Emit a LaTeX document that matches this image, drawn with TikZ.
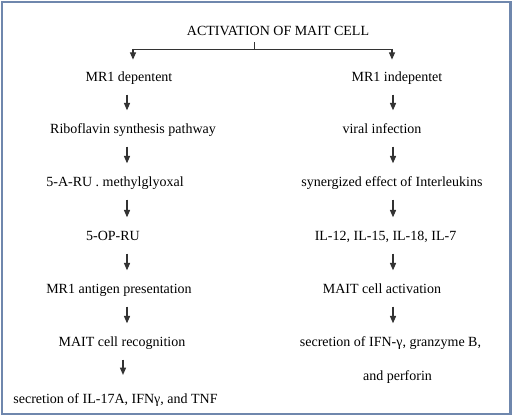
\documentclass[tikz,border=0pt]{standalone}
\usepackage{fontspec}
\setmainfont{Liberation Serif}
\newfontfamily\stepfont{Liberation Serif}
\usepackage{tikz}
\usepackage{xcolor}
\usetikzlibrary{arrows.meta,calc}
\definecolor{framec}{HTML}{6F87AD}
\definecolor{ink}{HTML}{333333}
\tikzset{
  stepnode/.style={align=center,inner sep=3pt,
                   font=\stepfont\fontsize{10.5}{12.6}\selectfont,
                   text height=7pt,text depth=2.2pt},
  flowarr/.style={-{Triangle[length=5.5pt,width=4.6pt]},line width=0.8pt,draw=ink,
                  shorten <=4.7pt,shorten >=7pt},
  forkline/.style={line width=0.7pt,draw=ink},
  forkarr/.style={-{Triangle[length=5.5pt,width=4.6pt]},line width=0.8pt,draw=ink,
                  shorten >=6pt}
}
\begin{document}
\begin{tikzpicture}[x=0.75pt,y=-0.75pt]
    \path[use as bounding box] (0,0) rectangle (513,417);
    \draw[framec,line width=1.9pt] (2,2) rectangle (510.5,414);
    % columns
    \coordinate (colL) at (127,0);
    \coordinate (colR) at (393,0);
    \node[stepnode] (title) at (278,32) {ACTIVATION OF MAIT CELL};
    % MR1 dependent branch
    \node[stepnode] (dep)  at (129,78)  {MR1 depentent};
    \node[stepnode] (ribo) at (133,130) {Riboflavin synthesis pathway};
    \node[stepnode] (aru)  at (115,183) {5-A-RU . methylglyoxal};
    \node[stepnode] (opru) at (113,237) {5-OP-RU};
    \node[stepnode] (mrag) at (119,290) {MR1 antigen presentation};
    \node[stepnode] (rec)  at (122,343) {MAIT cell recognition};
    \node[stepnode] (outL) at (115.5,400) {secretion of IL-17A, IFNγ, and TNF};
    % MR1 independent branch
    \node[stepnode] (indep) at (397,78)  {MR1 indepentet};
    \node[stepnode] (viral) at (382,130) {viral infection};
    \node[stepnode] (syn)   at (392,183) {synergized effect of Interleukins};
    \node[stepnode] (ils)   at (385.5,237) {IL-12, IL-15, IL-18, IL-7};
    \node[stepnode] (act)   at (382,290) {MAIT cell activation};
    \node[stepnode] (sec)   at (390.5,343) {secretion of IFN-γ, granzyme B,};
    \node[stepnode] (sec2)  at (397.5,377) {and perforin};
    % fork under the title
    \coordinate (split) at (254,49);
    \coordinate (forkL) at (133,49);
    \coordinate (forkR) at (392,49);
    \draw[forkline] (title.south -| split) -- (split);
    \draw[forkline] (forkL) -- (forkR);
    \draw[forkarr] (forkL) -- (dep.north -| forkL);
    \draw[forkarr] (forkR) -- (indep.north -| forkR);
    % arrows
    \draw[flowarr] (dep.south -| colL)  -- (ribo.north -| colL);
    \draw[flowarr] (ribo.south -| colL) -- (aru.north -| colL);
    \draw[flowarr] (aru.south -| colL)  -- (opru.north -| colL);
    \draw[flowarr] (opru.south -| colL) -- (mrag.north -| colL);
    \draw[flowarr] (mrag.south -| colL) -- (rec.north -| colL);
    \draw[flowarr,shorten >=11pt] ($(rec.south -| colL)+(-4,0)$) -- ($(outL.north -| colL)+(-4,0)$);
    \draw[flowarr] (indep.south -| colR) -- (viral.north -| colR);
    \draw[flowarr] (viral.south -| colR) -- (syn.north -| colR);
    \draw[flowarr] (syn.south -| colR)   -- (ils.north -| colR);
    \draw[flowarr] (ils.south -| colR)   -- (act.north -| colR);
    \draw[flowarr] (act.south -| colR)   -- (sec.north -| colR);
\end{tikzpicture}
\end{document}
